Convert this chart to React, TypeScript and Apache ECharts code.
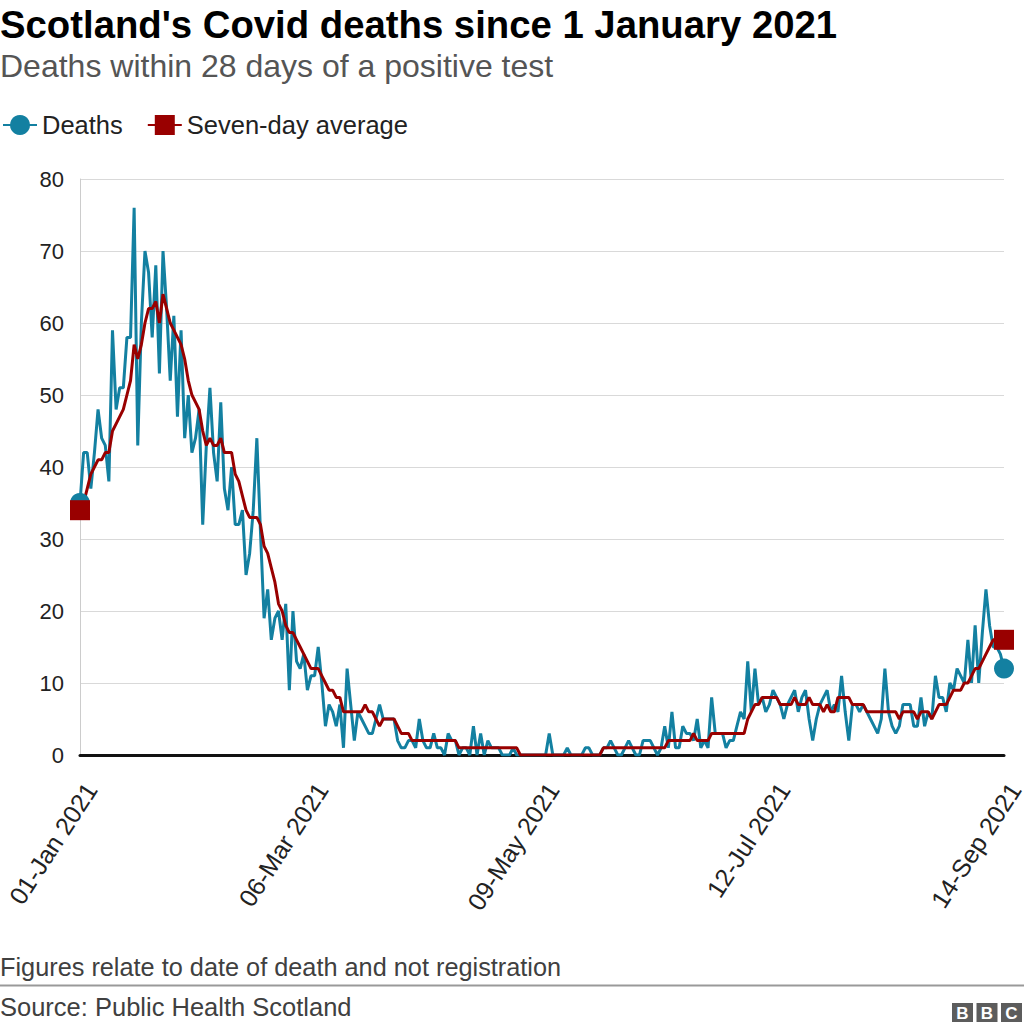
import React, { useEffect, useRef } from "react";
import * as echarts from "echarts";

const FONT = '"Liberation Sans", Arial, Helvetica, sans-serif';
const TEAL = "#1380a1";
const RED = "#990000";

const titleText = "Scotland's Covid deaths since 1 January 2021";
const subtitleText = "Deaths within 28 days of a positive test";
const noteText = "Figures relate to date of death and not registration";
const sourceText = "Source: Public Health Scotland";
const legendNames = ["Deaths", "Seven-day average"];

// x tick labels at day 0, 64, 128, 192, 256
const xTickLabels = ["01-Jan 2021", "06-Mar 2021", "09-May 2021", "12-Jul 2021", "14-Sep 2021"];

// daily deaths, 1 Jan 2021 .. 14 Sep 2021 (257 days)
const deaths = [
  35, 42, 42, 37, 42, 48, 44, 43, 38, 59,
  48, 51, 51, 58, 58, 76, 43, 60, 70, 67,
  58, 68, 53, 70, 62, 52, 61, 47, 59, 44,
  50, 42, 44, 48, 32, 43, 51, 42, 38, 49,
  37, 34, 40, 32, 32, 34, 25, 28, 34, 44,
  31, 19, 23, 16, 19, 20, 16, 21, 9, 20,
  13, 12, 14, 9, 11, 11, 15, 10, 4, 7,
  6, 4, 7, 1, 12, 7, 2, 6, 5, 4,
  3, 3, 5, 7, 5, 5, 5, 5, 2, 1,
  1, 2, 2, 1, 5, 2, 1, 1, 3, 1,
  1, 0, 3, 2, 2, 0, 1, 1, 0, 4,
  0, 3, 0, 2, 1, 1, 1, 0, 0, 0,
  1, 0, 0, 0, 0, 0, 0, 0, 0, 0,
  3, 0, 0, 0, 0, 1, 0, 0, 0, 0,
  1, 1, 0, 0, 0, 1, 1, 2, 1, 0,
  0, 1, 2, 1, 0, 0, 2, 2, 2, 1,
  0, 1, 4, 1, 6, 1, 1, 4, 3, 3,
  2, 5, 1, 2, 1, 8, 3, 3, 3, 1,
  2, 2, 4, 6, 5, 13, 6, 12, 7, 8,
  6, 7, 9, 8, 7, 5, 7, 8, 9, 6,
  8, 9, 5, 2, 5, 7, 8, 9, 6, 7,
  6, 11, 6, 2, 7, 7, 6, 7, 6, 5,
  4, 3, 5, 12, 6, 4, 3, 4, 7, 7,
  7, 4, 4, 8, 4, 6, 5, 11, 8, 8,
  6, 10, 9, 12, 11, 10, 16, 10, 18, 10,
  17, 23, 18, 15, 15, 14, 12,
];

// seven-day average as drawn
const sevenDayAverage = [
  34, 35, 37, 39, 40, 41, 41, 42, 42, 45,
  46, 47, 48, 50, 52, 57, 55, 57, 60, 62,
  62, 63, 60, 64, 62, 60, 59, 58, 57, 55,
  52, 50, 49, 48, 45, 43, 44, 43, 43, 44,
  42, 42, 42, 39, 38, 36, 34, 33, 33, 33,
  32, 29, 28, 26, 24, 21, 20, 18, 17, 17,
  16, 15, 14, 13, 12, 12, 12, 11, 10, 9,
  9, 8, 8, 6, 6, 6, 6, 6, 6, 7,
  6, 6, 5, 4, 5, 5, 5, 5, 4, 3,
  3, 3, 2, 2, 2, 2, 2, 2, 2, 2,
  2, 2, 2, 2, 2, 1, 1, 1, 1, 1,
  1, 1, 1, 1, 1, 1, 1, 1, 1, 1,
  1, 1, 0, 0, 0, 0, 0, 0, 0, 0,
  0, 0, 0, 0, 0, 0, 0, 0, 0, 0,
  0, 0, 0, 0, 0, 1, 1, 1, 1, 1,
  1, 1, 1, 1, 1, 1, 1, 1, 1, 1,
  1, 1, 1, 2, 2, 2, 2, 2, 2, 2,
  3, 2, 2, 2, 2, 3, 3, 3, 3, 3,
  3, 3, 3, 3, 3, 5, 6, 7, 7, 8,
  8, 8, 8, 8, 7, 7, 7, 7, 8, 7,
  7, 7, 8, 7, 7, 7, 6, 7, 6, 6,
  8, 8, 8, 8, 7, 7, 7, 7, 6, 6,
  6, 6, 6, 6, 6, 6, 6, 5, 6, 6,
  6, 6, 5, 6, 6, 6, 5, 6, 7, 7,
  7, 8, 9, 9, 9, 10, 10, 11, 12, 12,
  13, 14, 15, 16, 16, 16, 16,
];

export default function App() {
  const ref = useRef<HTMLDivElement>(null);

  useEffect(() => {
    document.body.style.margin = "0";
    if (!ref.current) return;
    const chart = echarts.init(ref.current, null, { renderer: "svg" });
    const deathsData = deaths.map((v, i) => [i, v]);
    const avgData = sevenDayAverage.map((v, i) => [i, v]);
    const last = deaths.length - 1;

    const bbcLetters = ["B", "B", "C"];
    const bbc: any[] = [];
    bbcLetters.forEach((ch, i) => {
      const x = 952 + i * 24.5;
      bbc.push({
        type: "rect",
        shape: { x, y: 1003, width: 21, height: 19 },
        style: { fill: "#5c5c5c" },
      });
      bbc.push({
        type: "text",
        x: x + 10.5,
        y: 1013,
        style: {
          text: ch,
          fill: "#ffffff",
          fontSize: 17,
          fontWeight: "bold",
          fontFamily: FONT,
          align: "center",
          verticalAlign: "middle",
        },
      });
    });

    chart.setOption({
      animation: false,
      textStyle: { fontFamily: FONT },
      grid: {
        left: 80,
        right: 20,
        top: 179,
        bottom: 275,
        containLabel: false,
        outerBoundsMode: "none",
      },
      legend: {
        data: legendNames,
        left: 2,
        top: 112,
        padding: 0,
        itemWidth: 34,
        itemHeight: 25,
        itemGap: 24,
        textStyle: { fontSize: 25.5, color: "#222222", fontFamily: FONT },
      },
      xAxis: {
        type: "value",
        min: 0,
        max: 256,
        interval: 64,
        axisLine: { show: true, onZero: false, lineStyle: { color: "#111111", width: 3 } },
        axisTick: { show: false },
        splitLine: { show: false },
        axisLabel: {
          rotate: 57,
          fontSize: 25,
          color: "#222222",
          fontFamily: FONT,
          margin: 23,
          verticalAlign: "top",
          lineHeight: 26,
          formatter: (v: number) => xTickLabels[Math.round(v / 64)] ?? "",
        },
      },
      yAxis: {
        type: "value",
        min: 0,
        max: 80,
        interval: 10,
        axisLine: { show: true, lineStyle: { color: "#cccccc", width: 1 } },
        axisTick: { show: false },
        splitLine: { show: true, lineStyle: { color: "#d9d9d9", width: 1 } },
        axisLabel: { fontSize: 22, color: "#222222", margin: 16, fontFamily: FONT },
      },
      series: [
        {
          name: legendNames[0],
          type: "line",
          data: deathsData,
          symbol: "circle",
          symbolSize: 20,
          showSymbol: false,
          lineStyle: { color: TEAL, width: 3 },
          itemStyle: { color: TEAL },
          z: 2,
        },
        {
          name: legendNames[1],
          type: "line",
          data: avgData,
          symbol: "rect",
          symbolSize: 20,
          showSymbol: false,
          lineStyle: { color: RED, width: 3 },
          itemStyle: { color: RED },
          z: 3,
        },
        {
          name: "deathsEnds",
          type: "scatter",
          data: [deathsData[0], deathsData[last]],
          symbol: "circle",
          symbolSize: 20,
          itemStyle: { color: TEAL, opacity: 1 },
          z: 4,
        },
        {
          name: "avgEnds",
          type: "scatter",
          data: [avgData[0], avgData[last]],
          symbol: "rect",
          symbolSize: 20,
          itemStyle: { color: RED, opacity: 1 },
          z: 5,
        },
      ],
      graphic: [
        {
          type: "text",
          x: 0,
          y: 24,
          style: {
            text: titleText,
            fill: "#000000",
            fontSize: 38.3,
            fontWeight: "bold",
            fontFamily: FONT,
            verticalAlign: "middle",
          },
        },
        {
          type: "text",
          x: 0,
          y: 66,
          style: {
            text: subtitleText,
            fill: "#555555",
            fontSize: 32,
            fontFamily: FONT,
            verticalAlign: "middle",
          },
        },
        {
          type: "text",
          x: 0,
          y: 967,
          style: {
            text: noteText,
            fill: "#404040",
            fontSize: 25.3,
            fontFamily: FONT,
            verticalAlign: "middle",
          },
        },
        {
          type: "line",
          shape: { x1: 0, y1: 985.5, x2: 1024, y2: 985.5 },
          style: { stroke: "#999999", lineWidth: 2 },
        },
        {
          type: "text",
          x: 0,
          y: 1007,
          style: {
            text: sourceText,
            fill: "#404040",
            fontSize: 25.5,
            fontFamily: FONT,
            verticalAlign: "middle",
          },
        },
        ...bbc,
      ],
    });

    return () => chart.dispose();
  }, []);

  return <div ref={ref} style={{ width: 1024, height: 1030 }} />;
}
